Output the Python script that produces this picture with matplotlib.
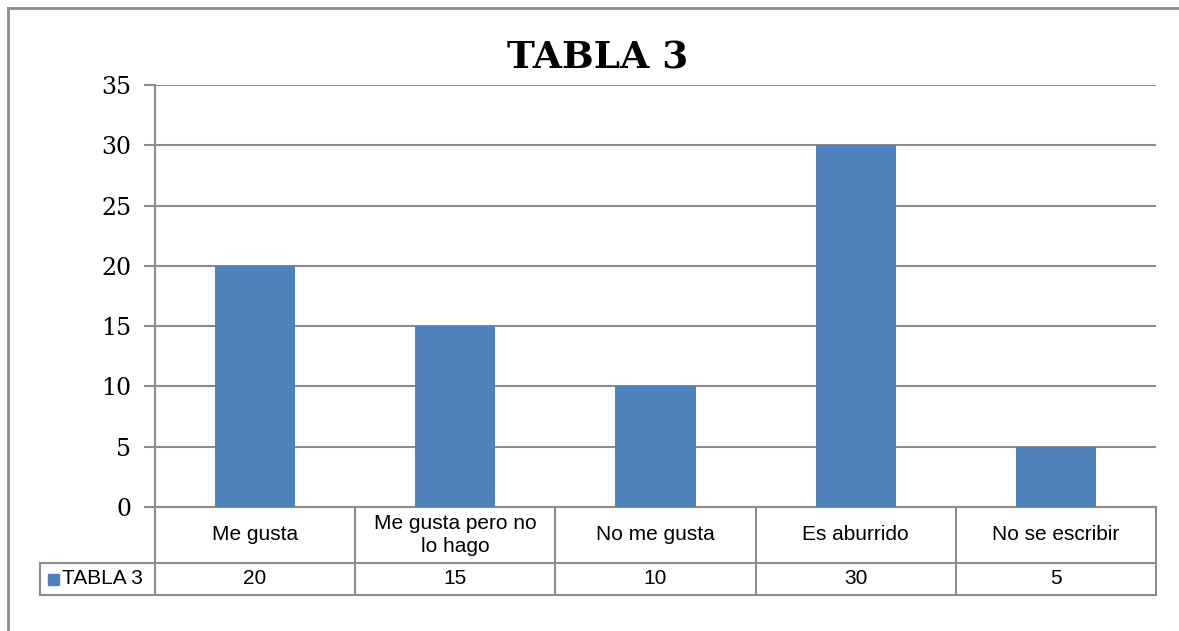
import matplotlib.pyplot as plt
from matplotlib.lines import Line2D
from matplotlib.patches import Rectangle
import matplotlib.transforms as mtransforms

# datos de la tabla 3
categorias = ['Me gusta', 'Me gusta pero no\nlo hago', 'No me gusta', 'Es aburrido', 'No se escribir']
valores = [20, 15, 10, 30, 5]
serie = 'TABLA 3'
ticks_y = [0, 5, 10, 15, 20, 25, 30, 35]

azul = '#4F81BD'
gris = '#8C8C8C'

fig = plt.figure(figsize=(11.79, 6.31), dpi=100)
ax = fig.add_axes([155/1179, 1 - 507/631, 1001/1179, 422/631])

x = list(range(len(categorias)))
ax.bar(x, valores, width=0.4, color=azul, zorder=3)
ax.set_xlim(-0.5, len(categorias) - 0.5)
ax.set_ylim(0, 35)
ax.set_yticks(ticks_y)
ax.set_yticklabels([str(t) for t in ticks_y], fontsize=17, family='DejaVu Serif')
ax.tick_params(axis='y', length=8, width=1.5, color=gris, pad=9)
ax.set_xticks([])
ax.grid(axis='y', color=gris, linewidth=1.5, zorder=0)
for s in ['top', 'right', 'bottom']:
    ax.spines[s].set_visible(False)
ax.spines['left'].set_color(gris)
ax.spines['left'].set_linewidth(1.5)

fig.text(598/1179, 1 - 58/631, 'TABLA 3', ha='center', va='center',
         fontsize=27, fontweight='bold', family='DejaVu Serif')

# tabla de datos debajo del eje
trans = mtransforms.blended_transform_factory(ax.transData, ax.transAxes)
h1 = -56/422
h2 = -88/422
izq = (40 - 155) / 1001
kw = dict(color=gris, linewidth=1.5, clip_on=False)

ax.add_line(Line2D([-0.5, len(categorias) - 0.5], [0, 0], transform=trans, **kw))
ax.add_line(Line2D([izq, 1], [h1, h1], transform=ax.transAxes, **kw))
ax.add_line(Line2D([izq, 1], [h2, h2], transform=ax.transAxes, **kw))
ax.add_line(Line2D([izq, izq], [h1, h2], transform=ax.transAxes, **kw))
for i in range(len(categorias) + 1):
    ax.add_line(Line2D([i - 0.5, i - 0.5], [0, h2], transform=trans, **kw))

for i, (c, v) in enumerate(zip(categorias, valores)):
    ax.text(i, h1 / 2, c, transform=trans, ha='center', va='center',
            fontsize=15, family='Liberation Sans', linespacing=1.3)
    ax.text(i, (h1 + h2) / 2, str(v), transform=trans, ha='center', va='center',
            fontsize=15, family='Liberation Sans')

# leyenda dentro de la tabla
ax.add_patch(Rectangle((izq + 8/1001, (h1 + h2) / 2 - 5.5/422), 11/1001, 11/422,
                       transform=ax.transAxes, color=azul, clip_on=False))
ax.text(izq + 22/1001, (h1 + h2) / 2, serie, transform=ax.transAxes, ha='left', va='center',
        fontsize=15, family='Liberation Sans')

# marco exterior del grafico
fig.add_artist(Line2D([8/1179, 1], [1 - 8/631, 1 - 8/631], color=gris, linewidth=2))
fig.add_artist(Line2D([8/1179, 8/1179], [0, 1 - 8/631], color=gris, linewidth=2))

fig.savefig('out.png', dpi=100)
